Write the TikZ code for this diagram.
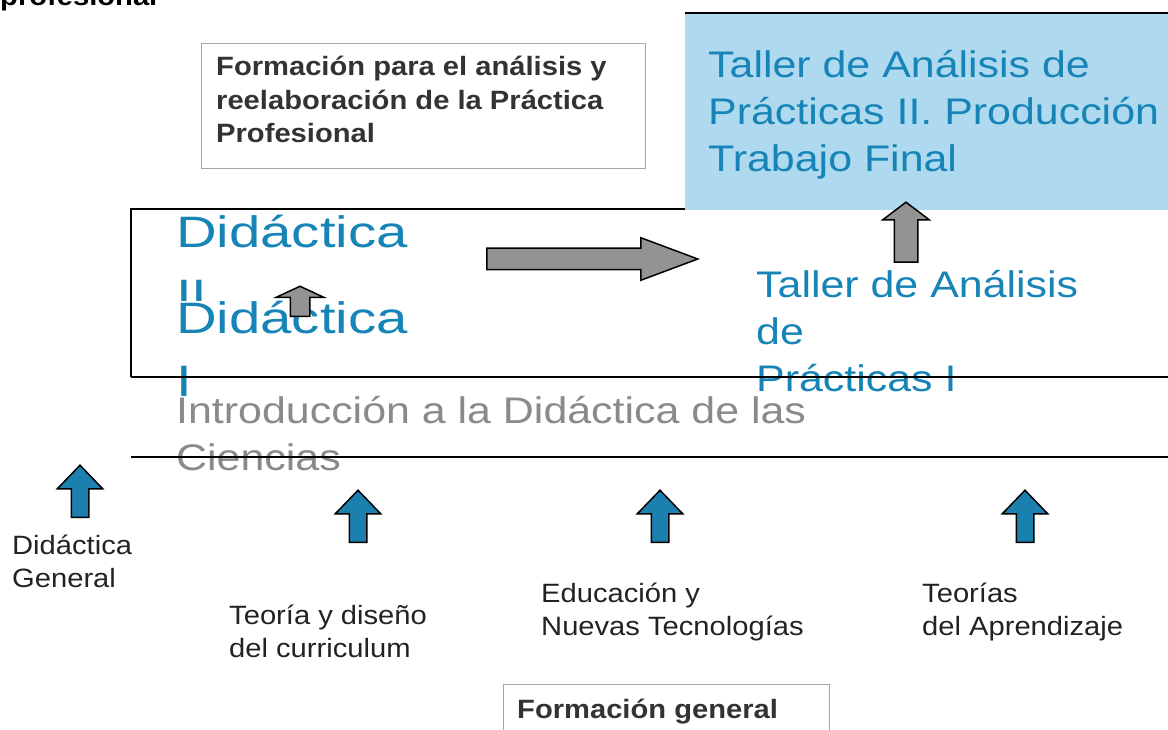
\documentclass[tikz,border=0pt]{standalone}
\usepackage{fontspec}
\setmainfont{Liberation Sans}
\newfontfamily\subjectfont[FakeStretch=1.1]{Liberation Sans}
\newfontfamily\coursefont[FakeStretch=1.16]{Liberation Sans}
\newfontfamily\bigcoursefont[FakeStretch=1.28]{Liberation Sans}
\usepackage{tikz}
\usetikzlibrary{positioning, shapes.arrows}

\definecolor{tallerblue}{HTML}{1784B8}
\definecolor{boxblue}{HTML}{AED9EE}
\definecolor{arrowblue}{HTML}{1C80AE}
\definecolor{introgray}{HTML}{8A8A8A}
\definecolor{subjectgray}{HTML}{222222}

\begin{document}
\begin{tikzpicture}[x=1pt, y=-1pt,
			frame/.style={
				draw=gray!70,
				line width=1pt,
				rectangle,
				anchor=north west,
				inner sep=0
			},
			heading/.style={
				anchor=base west,
				inner sep=0,
				align=left,
				text=black!80,
				font=\subjectfont\bfseries\fontsize{26.5}{33.5}\selectfont
			},
			course/.style={
				anchor=base west,
				inner sep=0,
				align=left,
				text=tallerblue,
				font=\coursefont\fontsize{37}{47}\selectfont
			},
			bigcourse/.style={
				course,
				font=\bigcoursefont\fontsize{44}{63}\selectfont
			},
			subject/.style={
				anchor=base west,
				inner sep=0,
				align=left,
				text=subjectgray,
				font=\subjectfont\fontsize{26.5}{33}\selectfont
			},
			bluearrow/.style={
				single arrow,
				draw=black,
				line width=1.5pt,
				fill=arrowblue,
				rotate=90,
				anchor=tail,
				inner xsep=0,
				inner ysep=8pt,
				minimum height=52pt,
				single arrow head extend=14pt,
				single arrow tip angle=88
			},
			grayarrow/.style={
				single arrow,
				draw=black,
				line width=1.5pt,
				fill=gray!85,
				anchor=tail,
				inner xsep=0
			}
			]
			\useasboundingbox (0,0) rectangle (1168,730);
			\clip (0,0) rectangle (1168,730);
			
			% Cut title
			\node[heading, text=black] (title) at (0,6) {profesional};
			
			% Top box
			\node[frame, minimum width=444pt, minimum height=125pt] (topbox) at (201,43) {};
			\node[heading] (toptext) at (216,143) {Formación para el análisis y\\reelaboración de la Práctica\\Profesional};
			
			% Main box, top and left edge
			\draw[line width=2pt] (685,209) -- (131,209) -- (131,377);
			
			% Blue box
			\node[anchor=north west, fill=boxblue, inner sep=0, minimum width=483pt, minimum height=197pt] (tapII) at (685,13) {};
			\draw[line width=2pt] (tapII.north west) -- (tapII.north east);
			\node[course] (tapIItext) at (708,172) {Taller de Análisis de\\Prácticas II. Producción\\Trabajo Final};
			
			% Middle texts
			\node[bigcourse] (didII) at (176,310) {Didáctica\\II};
			\node[bigcourse, fill=white] (didI) at (176,396) {Didáctica\\I};
			\node[course, text=introgray, fill=white] (intro) at (176,470) {Introducción a la Didáctica de las\\Ciencias};
			\node[course] (tapI) at (756,391) {Taller de Análisis\\de\\Prácticas I};
			
			% Bottom lines of the main box
			\draw[line width=2pt] (131,377) -- (1168,377);
			\draw[line width=2pt] (131,457) -- (1168,457);
			
			% Gray arrows
			\node[grayarrow, rotate=90, inner ysep=9pt, minimum height=30pt, single arrow head extend=14pt, single arrow tip angle=130] (upI) at (300,317) {};
			\node[grayarrow, inner ysep=10pt, minimum height=211pt, single arrow head extend=10.5pt, single arrow tip angle=41] (toright) at (486,259) {};
			\node[grayarrow, rotate=90, inner ysep=11pt, minimum height=60pt, single arrow head extend=11.5pt, single arrow tip angle=106] (upII) at (906,263) {};
			
			% Blue arrows
			\node[bluearrow] (a1) at (80,518) {};
			\node[bluearrow] (a2) at (358,543) {};
			\node[bluearrow] (a3) at (660,543) {};
			\node[bluearrow] (a4) at (1025,543) {};
			
			% Subjects
			\node[subject] (gral) at (12,587) {Didáctica\\General};
			\node[subject] (curr) at (229,657) {Teoría y diseño\\del curriculum};
			\node[subject] (tec) at (541,635) {Educación y\\Nuevas Tecnologías};
			\node[subject] (apr) at (922,635) {Teorías\\del Aprendizaje};
			
			% Bottom box
			\node[frame, minimum width=326pt, minimum height=60pt] (general) at (503,684) {};
			\node[heading] (gentext) at (517,718) {Formación general};
			
		\end{tikzpicture}
\end{document}
